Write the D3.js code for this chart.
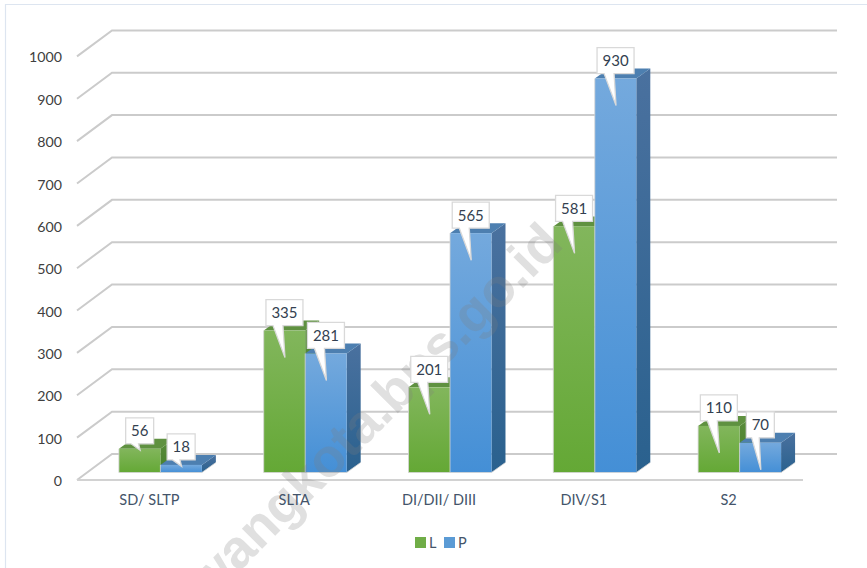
<!DOCTYPE html>
<html><head><meta charset="utf-8">
<script src="https://cdn.jsdelivr.net/npm/d3@7"></script>
<style>html,body{margin:0;padding:0;background:#fff;overflow:hidden}svg{display:block}</style>
</head><body><div id="c"></div>
<script>
const categories = ["SD/ SLTP","SLTA","DI/DII/ DIII","DIV/S1","S2"];
const seriesNames = ["L","P"];
const valuesL = [56,335,201,581,110];
const valuesP = [18,281,565,930,70];
const yTicks = [0,100,200,300,400,500,600,700,800,900,1000];
const font = 'Lato,sans-serif';

const W=867,H=568, DX=14, DY=10, wallDY=26, floorInset=7.5;
const svg=d3.select("#c").append("svg").attr("width",W).attr("height",H);
const defs=svg.append("defs");
function grad(id,a,b){const g=defs.append("linearGradient").attr("id",id).attr("x1",0).attr("y1",0).attr("x2",0).attr("y2",1);
 g.append("stop").attr("offset","0%").attr("stop-color",a);g.append("stop").attr("offset","100%").attr("stop-color",b);}
grad("gL","#82b65c","#64a835");grad("gP","#74a9dd","#448fd6");grad("sL","#5a8c3c","#47802a");grad("sP","#4a719f","#2a618e");

const y=d3.scaleLinear().domain([0,1000]).range([480,56.4]);
const xLabel=d3.scaleBand().domain(categories).range([77,801]);
const x=d3.scaleBand().domain(categories).range([88,812]).paddingInner(0.427).paddingOuter(0.2135);
const xs=d3.scaleBand().domain(seriesNames).range([0,x.bandwidth()]);
const color={L:{f:"url(#gL)",s:"url(#sL)",t:"#5f9140",k:"#70ad47"},P:{f:"url(#gP)",s:"url(#sP)",t:"#4d7fb0",k:"#5b9bd5"}};

// frame
svg.append("path").attr("d",`M5.5,${H}V4.5H${W}`).attr("fill","none").attr("stroke","#dde5f0").attr("stroke-width",1.2);

// gridlines (wall and side wall)
const grid=svg.append("g").attr("fill","none").attr("stroke","#cbcbcb").attr("stroke-width",2);
yTicks.forEach(t=>{
  grid.append("path").attr("d",`M77,${y(t)}L112,${y(t)-wallDY}H837`);
});
// floor front line
grid.append("path").attr("d",`M77,${y(0)}H803`).attr("stroke","#d2d2d2");

// axes
const ax=svg.append("g").attr("transform","translate(62,1)")
  .call(d3.axisLeft(y).tickValues(yTicks).tickFormat(d3.format("d")).tickSize(0).tickPadding(0));
ax.select(".domain").remove();
ax.selectAll("text").attr("font-family",font).attr("font-size",14.2).attr("fill","#404040");

// bars
const rows=categories.map((c,i)=>({c,L:valuesL[i],P:valuesP[i]}));
const base=y(0)-floorInset;
const barTop=v=>y(v)-floorInset;
const items=[];
rows.forEach(r=>seriesNames.forEach(s=>items.push({c:r.c,s,v:r[s]})));
const bars=svg.append("g");
items.forEach(d=>{
  const x0=x(d.c)+xs(d.s), w=xs.bandwidth(), t=barTop(d.v), g=bars.append("g"), col=color[d.s];
  g.append("path").attr("d",`M${x0+w},${t}L${x0+w+DX},${t-DY}V${base-DY}L${x0+w},${base}Z`).attr("fill",col.s);
  g.append("path").attr("d",`M${x0},${t}L${x0+DX},${t-DY}H${x0+w+DX}L${x0+w},${t}Z`).attr("fill",col.t);
  g.append("rect").attr("x",x0).attr("y",t).attr("width",w).attr("height",base-t).attr("fill",col.f);
  g.append("path").attr("d",`M${x0},${t}V${base}H${x0+w}L${x0+w+DX},${base-DY}`).attr("fill","none").attr("stroke","#d4d4d4").attr("stroke-width",1).attr("opacity",.8);
});

// watermark
svg.append("text").text("karawangkota.bps.go.id")
  .attr("transform","translate(565,246) rotate(-45)")
  .attr("text-anchor","end").attr("font-family",'"Liberation Sans",sans-serif').attr("font-weight","bold")
  .attr("font-size",54).attr("fill","#7f7f7f").attr("opacity",.24);

// category axis sits above the watermark
const bx=svg.append("g").attr("transform","translate(0,495)")
  .call(d3.axisBottom(xLabel).tickSize(0).tickPadding(0));
bx.select(".domain").remove();
bx.selectAll("text").attr("font-family",font).attr("font-size",14.5).attr("fill","#44546a");

// callouts
const labels=svg.append("g");
items.forEach(d=>{
  const w=xs.bandwidth(), cx=x(d.c)+xs(d.s)+w/2, t=barTop(d.v);
  const str=String(d.v), bw=str.length>2?37:28, bh=26, bt=t-31, bl=cx-bw/2;
  const tip=(base-t)>26?t+27:t+1.5;
  const g=labels.append("g");
  g.append("path").attr("d",`M${bl},${bt}h${bw}v${bh}H${bl+bw*0.46}L${cx+.5},${tip}L${bl+bw*0.19},${bt+bh}H${bl}Z`)
    .attr("fill","#fff").attr("stroke","#d9d9d9").attr("stroke-width",1.3);
  g.append("text").text(str).attr("x",bl+bw/2).attr("y",bt+bh/2).attr("dy","0.36em").attr("text-anchor","middle")
    .attr("font-family",font).attr("font-size",15).attr("fill","#333f50");
});

// legend
const lx=d3.scaleOrdinal().domain(seriesNames).range([415,444]);
const lg=svg.append("g");
seriesNames.forEach(s=>{
  lg.append("rect").attr("x",lx(s)).attr("y",537).attr("width",11).attr("height",11).attr("fill",color[s].k);
  lg.append("text").text(s).attr("x",lx(s)+14).attr("y",542.5).attr("dy","0.36em").attr("font-family",font).attr("font-size",14.5).attr("fill","#44546a");
});
</script></body></html>
